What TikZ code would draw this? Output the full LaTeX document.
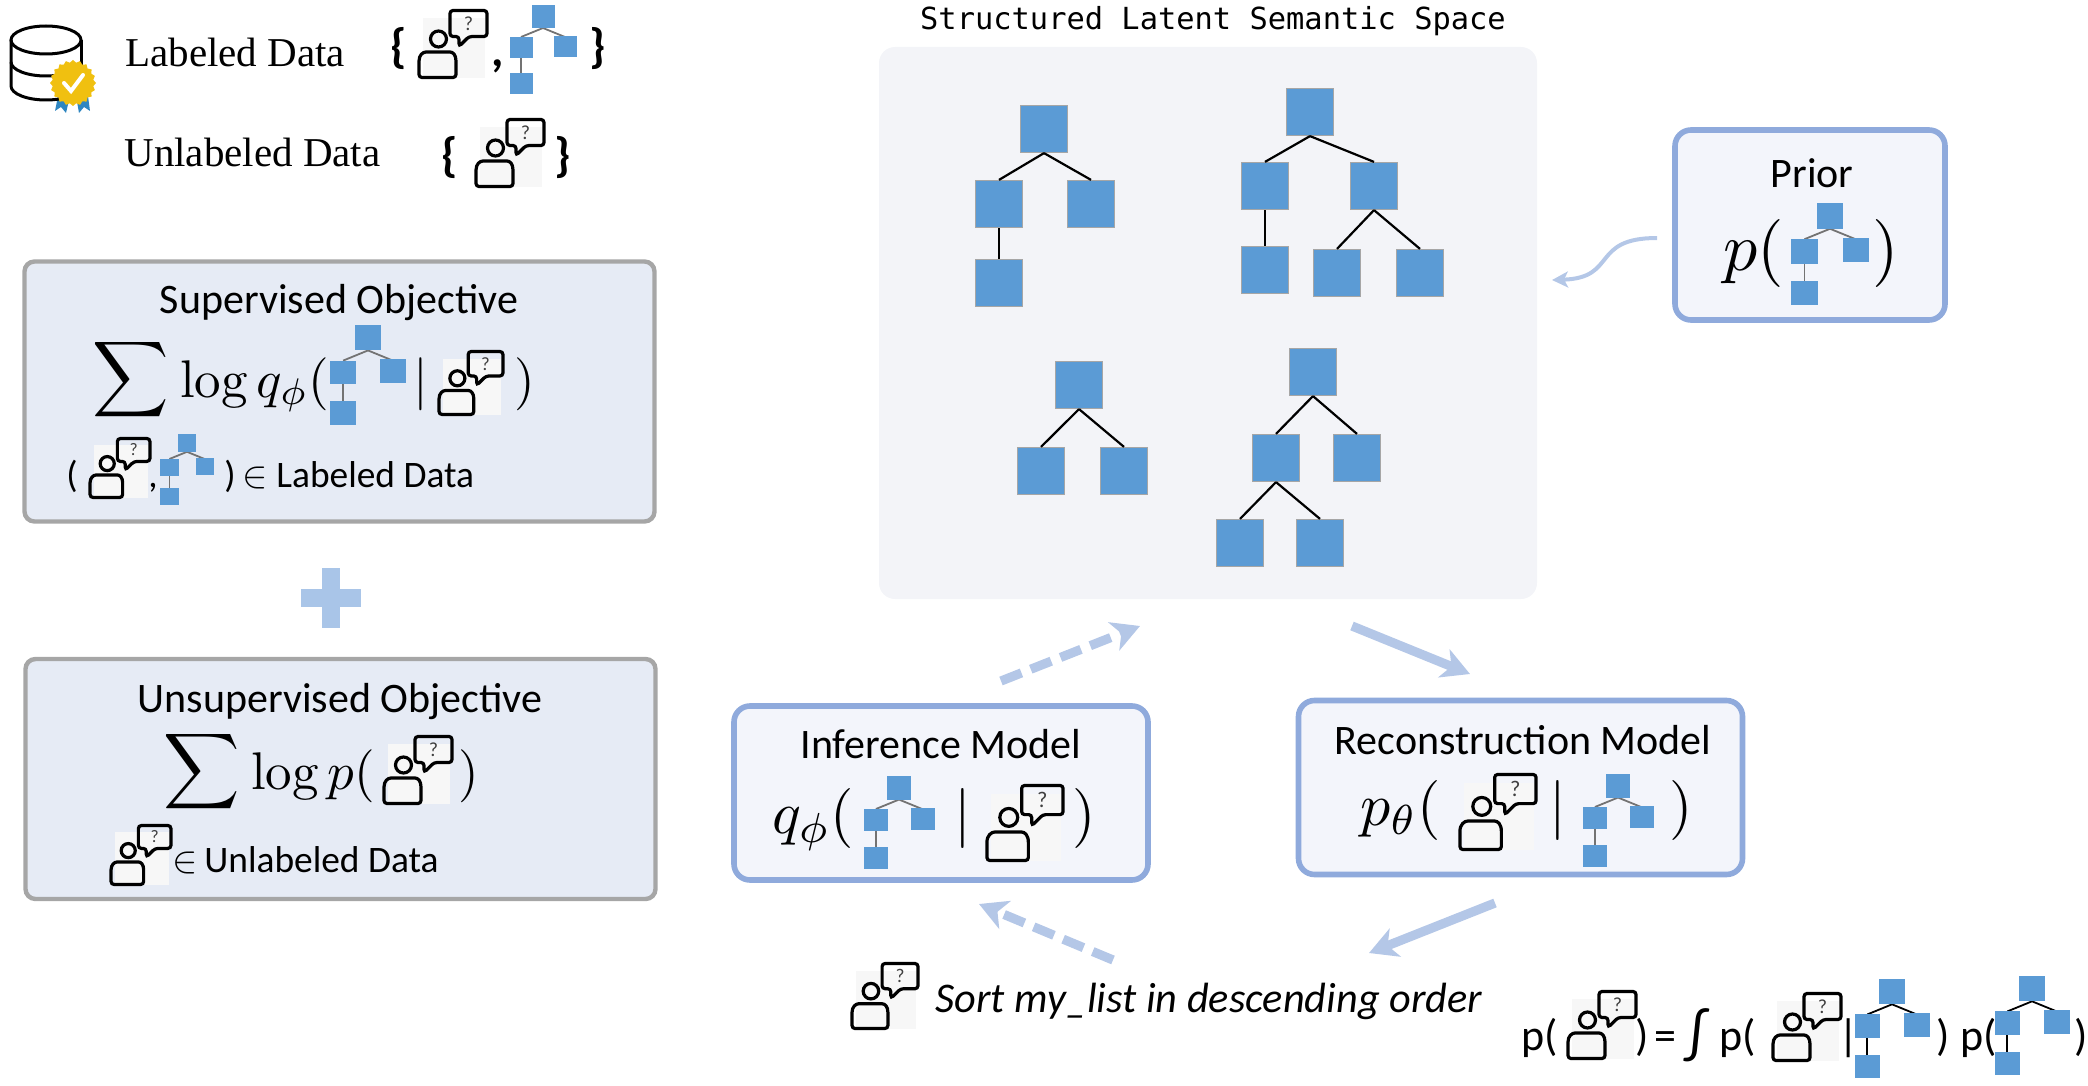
\documentclass[tikz,border=0pt]{standalone}
\usepackage{amsmath}
\usepackage{fontspec}
\setsansfont{Carlito}
\setmonofont{DejaVu Sans Mono}
\newfontfamily\legendfont{Liberation Serif}
\usetikzlibrary{arrows.meta,shapes.geometric,calc}
\definecolor{objfill}{HTML}{E6EBF5}
\definecolor{objline}{HTML}{A6A6A6}
\definecolor{modelline}{HTML}{8FAADC}
\definecolor{modelfill}{HTML}{F3F5FB}
\definecolor{panelfill}{HTML}{F3F4F8}
\definecolor{treeblue}{HTML}{5B9BD5}
\definecolor{arrowblue}{HTML}{B4C7E7}
\definecolor{plusblue}{HTML}{A9C5E8}
\definecolor{badgegold}{HTML}{F0C010}
\definecolor{ribbonblue}{HTML}{2E86C1}
\tikzset{
  objbox/.style={draw=objline,fill=objfill,line width=2.2pt,rounded corners=5pt,inner sep=0pt},
  modelbox/.style={draw=modelline,fill=modelfill,line width=2.8pt,rounded corners=8pt,inner sep=0pt},
  treebox/.style={draw=black!35,fill=treeblue,line width=.6pt,minimum size=23.5pt,inner sep=0pt},
  treelink/.style={line width=1.1pt,black},
  boxtitle/.style={font=\sffamily\fontsize{21}{25}\selectfont,inner sep=0pt},
  note/.style={font=\sffamily\fontsize{18.7}{22}\selectfont,inner sep=0pt,anchor=base west},
  legend/.style={font=\legendfont\fontsize{20.5}{24}\selectfont,inner sep=0pt,anchor=base west},
  mathbig/.style={scale=2.65,inner sep=0pt,anchor=base west},
  mathbigger/.style={scale=3,inner sep=0pt,anchor=base west},
  bracebig/.style={font=\sffamily\bfseries\fontsize{24}{28}\selectfont,inner sep=0pt},
  formula/.style={font=\sffamily\fontsize{22}{26}\selectfont,inner sep=0pt,anchor=base west},
  flow/.style={arrowblue,line width=4.6pt,-{Stealth[length=14pt,width=15pt,inset=4pt]}},
  flowdash/.style={flow,dash pattern=on 11pt off 5pt},
  usericon/.pic={
    \fill[black!3] (-30,-26) rectangle (32,34);
    \draw[line width=1.6pt,rounded corners=1.5pt] (-34,20) .. controls (-34,11) and (-30,8) .. (-24,8) -- (-6,8) .. controls (0,8) and (3,11) .. (3,20) -- (3,33.5) -- (-34,33.5) -- cycle;
    \draw[line width=1.6pt] (-14.5,-5) circle (8);
    \draw[line width=1.6pt,rounded corners=1.5pt] (-3,-33.5) -- (34,-33.5) -- (34,-7.5) -- (16,-7.5) -- (6,2.5) -- (6,-7.5) -- (-3,-7.5) -- cycle;
    \node[transform shape,font=\sffamily\fontsize{10}{12}\selectfont,text=black!75,inner sep=0pt] (qmark) at (15.5,-20.5) {?};
  },
  treeicon/.pic={
    \draw[line width=.9pt,#1] (-22,20) -- (0,11) -- (22,20);
    \draw[line width=.9pt,#1] (-22,40) -- (-22,57);
    \fill[treeblue] (-11.5,-11.5) rectangle (11.5,11);
    \fill[treeblue] (-33.5,20) rectangle (-10.5,41);
    \fill[treeblue] (11,19) rectangle (34,40);
    \fill[treeblue] (-33.5,56) rectangle (-10.5,77);
  }
}
\begin{document}
\begin{tikzpicture}[x=0.5pt,y=-0.5pt]
\useasboundingbox (0,0) rectangle (2088,1086);

% legend, top left
\fill[ribbonblue] (58,96) -- (70,96) -- (66,113) -- (61,107) -- (55,111) -- cycle;
\fill[ribbonblue] (76,96) -- (88,96) -- (90,111) -- (84,107) -- (79,113) -- cycle;
\draw[line width=1.5pt] (11,40) -- (11,86) arc[start angle=180,end angle=0,x radius=35,y radius=14];
\draw[line width=1.5pt] (81,40) -- (81,70);
\draw[line width=1.5pt] (46,40) ellipse (35 and 14);
\draw[line width=1.5pt] (11,62) arc[start angle=180,end angle=0,x radius=35,y radius=14];
\node[star,star points=20,star point ratio=1.12,fill=badgegold,inner sep=0pt,minimum size=23pt] (badge) at (73,83) {};
\draw[white,line width=2pt,line cap=round] (64,83) -- (71,91) -- (83,75);

\node[legend] (labeledtxt) at (125,67) {Labeled Data};
\node[legend] (unlabeledtxt) at (124,166) {Unlabeled Data};
\node[bracebig] (lbrace1) at (399,49) {\{};
\pic (leguser1) at (453,44) {usericon};
\node[bracebig,anchor=base] (lcomma) at (498,67) {,};
\pic (legtree) at (543,17) {treeicon=black!55};
\node[bracebig] (rbrace1) at (598,49) {\}};
\node[bracebig] (lbrace2) at (450,158) {\{};
\pic (leguser2) at (510,153) {usericon};
\node[bracebig] (rbrace2) at (563,158) {\}};

% objectives
\node[objbox,minimum width=315pt,minimum height=130pt] (supbox) at (339.5,391.5) {};
\node[boxtitle] (suptitle) at (339,303) {Supervised Objective};
\node[scale=2.65,inner sep=0pt] (supsum) at (131,380) {$\displaystyle\sum$};
\node[mathbig] (suplog) at (179,397) {$\log q_\phi($};
\pic[scale=1.13] (suptree) at (368,338) {treeicon=black!55};
\node[mathbig,anchor=base] (supbar) at (421,397) {$|$};
\pic[scale=.94] (supuser) at (471,383) {usericon};
\node[mathbig,anchor=base] (supclose) at (525,397) {$)$};
\node[note] (supopen) at (66,487) {(};
\pic[scale=.88] (supuser2) at (120,468) {usericon};
\node[note] (supcomma) at (148,487) {,};
\pic[scale=.8] (suptree2) at (187,443) {treeicon=black!55};
\node[note] (supclose2) at (224,487) {)};
\node[scale=1.9,inner sep=0pt,anchor=base west] (supin) at (242,487) {$\in$};
\node[note] (supnote) at (276,487) {Labeled Data};

% plus sign
\fill[plusblue] (301,589) rectangle (361,607);
\fill[plusblue] (322,568) rectangle (340,628);

\node[objbox,minimum width=315pt,minimum height=120pt] (unsbox) at (340.5,779) {};
\node[boxtitle] (unstitle) at (340,702) {Unsupervised Objective};
\node[scale=2.65,inner sep=0pt] (unssum) at (202,772) {$\displaystyle\sum$};
\node[mathbig] (unslog) at (250,789) {$\log p($};
\pic (unsuser) at (418,770) {usericon};
\node[mathbig,anchor=base] (unsclose) at (469,789) {$)$};
\pic[scale=.88] (unsuser2) at (141,855) {usericon};
\node[scale=1.9,inner sep=0pt,anchor=base west] (unsin) at (172,872) {$\in$};
\node[note] (unsnote) at (204,872) {Unlabeled Data};

% latent space
\node[fill=panelfill,rounded corners=8pt,minimum width=329pt,minimum height=276pt,inner sep=0pt] (panel) at (1208,323) {};
\node[font=\ttfamily\fontsize{15.2}{18}\selectfont,inner sep=0pt] (paneltitle) at (1213,21) {Structured Latent Semantic Space};

\node[treebox] (aroot) at (1044,129) {};
\node[treebox] (al) at (999,204) {};
\node[treebox] (ar) at (1091,204) {};
\node[treebox] (all) at (999,283) {};
\draw[treelink] (aroot.south) -- (al.north);
\draw[treelink] (aroot.south) -- (ar.north);
\draw[treelink] (al) -- (all);

\node[treebox] (broot) at (1310,112) {};
\node[treebox] (bl) at (1265,186) {};
\node[treebox] (br) at (1374,186) {};
\node[treebox] (bll) at (1265,270) {};
\node[treebox] (brl) at (1337,273) {};
\node[treebox] (brr) at (1420,273) {};
\draw[treelink] (broot.south) -- (bl.north);
\draw[treelink] (broot.south) -- (br.north);
\draw[treelink] (bl) -- (bll);
\draw[treelink] (br.south) -- (brl.north);
\draw[treelink] (br.south) -- (brr.north);

\node[treebox] (croot) at (1079,385) {};
\node[treebox] (cl) at (1041,471) {};
\node[treebox] (cr) at (1124,471) {};
\draw[treelink] (croot.south) -- (cl.north);
\draw[treelink] (croot.south) -- (cr.north);

\node[treebox] (droot) at (1313,372) {};
\node[treebox] (dl) at (1276,458) {};
\node[treebox] (dr) at (1357,458) {};
\node[treebox] (dll) at (1240,543) {};
\node[treebox] (dlr) at (1320,543) {};
\draw[treelink] (droot.south) -- (dl.north);
\draw[treelink] (droot.south) -- (dr.north);
\draw[treelink] (dl.south) -- (dll.north);
\draw[treelink] (dl.south) -- (dlr.north);

% prior
\node[modelbox,minimum width=135pt,minimum height=95pt] (priorbox) at (1810,225) {};
\node[boxtitle] (priortitle) at (1812,173) {Prior};
\node[scale=3.4,inner sep=0pt,anchor=base west] (priorp) at (1722,270) {$p($};
\pic[scale=1.16] (priortree) at (1830,216) {treeicon=black!55};
\node[scale=3.4,inner sep=0pt,anchor=base] (priorclose) at (1886,270) {$)$};

% models
\node[modelbox,minimum width=207pt,minimum height=87pt] (infbox) at (941,793) {};
\node[boxtitle] (inftitle) at (941,744) {Inference Model};
\node[mathbigger] (infq) at (771,833) {$q_\phi($};
\pic[scale=1.05] (inftree) at (899,788) {treeicon=black!55};
\node[mathbigger,anchor=base] (infbar) at (963,833) {$|$};
\pic[scale=1.12] (infuser) at (1025,823) {usericon};
\node[mathbigger,anchor=base] (infclose) at (1084,833) {$)$};

\node[modelbox,minimum width=222pt,minimum height=87pt] (recbox) at (1520.5,787.5) {};
\node[boxtitle] (rectitle) at (1523,740) {Reconstruction Model};
\node[mathbigger] (recp) at (1359,825) {$p_\theta($};
\pic[scale=1.12] (recuser) at (1498,812) {usericon};
\node[mathbigger,anchor=base] (recbar) at (1558,825) {$|$};
\pic[scale=1.05] (rectree) at (1618,786) {treeicon=black!55};
\node[mathbigger,anchor=base] (recclose) at (1681,825) {$)$};

% flow arrows
\coordinate (infout) at (1001,681);
\coordinate (latentin) at (1140,626);
\coordinate (latentout) at (1352,626);
\coordinate (recin) at (1470,674);
\coordinate (recout) at (1495,903);
\coordinate (sortin) at (1369,953);
\coordinate (sortout) at (1113,960);
\coordinate (infin) at (979,904);
\coordinate (priorout) at (1657,238);
\coordinate (priorin) at (1552,280);
\draw[flowdash] (infout) -- (latentin);
\draw[flow] (latentout) -- (recin);
\draw[flow] (recout) -- (sortin);
\draw[flowdash] (sortout) -- (infin);
\draw[arrowblue,line width=2pt,-{Stealth[length=8pt,width=8pt,inset=2pt]}] (priorout) .. controls (1590,238) and (1618,278) .. (priorin);

% sample utterance
\pic[scale=.97] (sortuser) at (885,996) {usericon};
\node[font=\sffamily\itshape\fontsize{21.15}{25}\selectfont,inner sep=0pt,anchor=base west] (sorttxt) at (935,1012) {Sort my\_list in descending order};

% marginal
\node[formula] (margp) at (1521,1050) {p(};
\pic (marguser) at (1602,1025) {usericon};
\node[formula] (margclose0) at (1635,1050) {)};
\node[formula] (margeq) at (1654,1050) {=};
\node[scale=1.3,font=\sffamily\fontsize{22}{26}\selectfont,inner sep=0pt,anchor=base west] (margint) at (1686,1052) {∫};
\node[formula] (margp2) at (1719,1050) {p(};
\pic (marguser2) at (1807,1027) {usericon};
\node[formula] (margbar) at (1838,1050) {|};
\pic[scale=1.12] (margtree) at (1892,992) {treeicon=black};
\node[formula] (margclose) at (1936,1050) {)};
\node[formula] (margp3) at (1960,1050) {p(};
\pic[scale=1.12] (margtree2) at (2032,989) {treeicon=black};
\node[formula] (margclose2) at (2074,1050) {)};
\end{tikzpicture}
\end{document}
